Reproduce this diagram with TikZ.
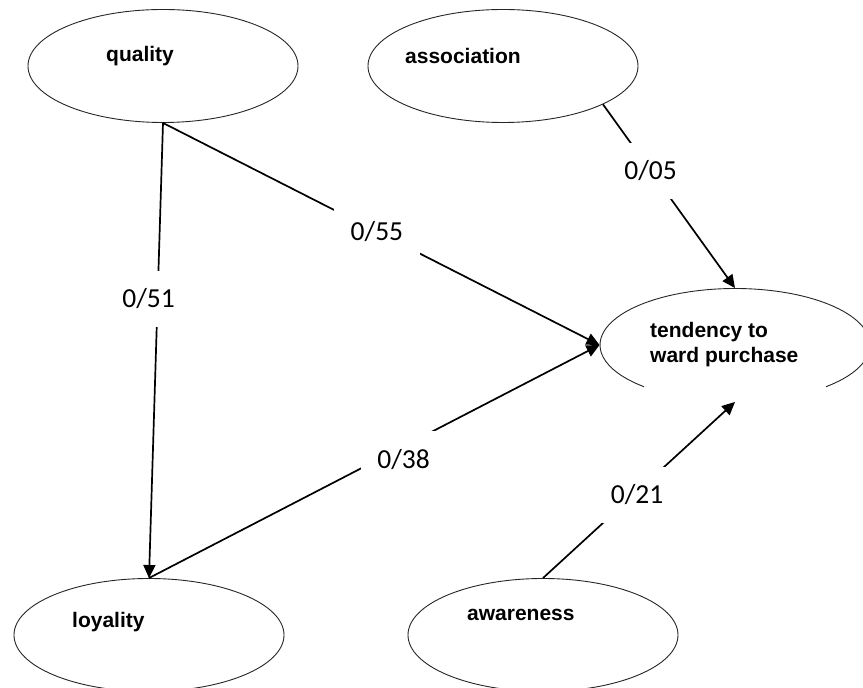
\documentclass[tikz,border=0pt]{standalone}
\usepackage{fontspec}
\setmainfont{Liberation Sans}
\newfontfamily\carlito{Carlito}
\usetikzlibrary{arrows.meta,shapes.geometric}

\begin{document}
\begin{tikzpicture}[x=1pt,y=1pt,>={Triangle[length=13pt,width=12pt]},
oval/.style={ellipse,draw=black!85,line width=.9pt,minimum width=270pt,minimum height=113pt,inner sep=0},
ovaltxt/.style={anchor=base west,inner sep=0,font=\fontsize{21}{25}\selectfont\bfseries},
link/.style={->,line width=1.7pt},
wt/.style={fill=white,minimum width=86pt,minimum height=56pt,inner sep=0,font=\carlito\fontsize{27.5}{30}\selectfont}]
\useasboundingbox (0,0) rectangle (863,688);
\node[oval](qual)at(163,622){};\node[oval](assoc)at(503,622){};
\node[oval](loy)at(149,53){};\node[oval](aware)at(543,53){};
\node[oval,draw=none](tend)at(735,343){};
\draw[black!85,line width=.9pt](tend.center)++(-47.6:135 and 56.5) arc[start angle=-47.6,end angle=227.6,x radius=135pt,y radius=56.5pt];
\node[ovaltxt](qual-t)at(106,626){quality};
\node[ovaltxt](assoc-t)at(405,624){association};
\node[ovaltxt](loy-t)at(72,60){loyality};
\node[ovaltxt](aware-t)at(467,67){awareness};
\node[ovaltxt,anchor=west,align=left](tend-t)at(650,343){tendency to\\ward purchase};
\draw[link](qual.south)--(loy.north) node[wt,pos=.386,xshift=-9pt](w51){0/51};
\draw[link](qual.south)--(tend.west) node[wt,pos=.49](w55){0/55};
\draw[link](loy.north)--(tend.west) node[wt,pos=.565,yshift=-13pt](w38){0/38};
\draw[link](assoc.-21.5)--(tend.north) node[wt,pos=.36](w05){0/05};
\draw[link](aware.north)--(tend.south) node[wt,pos=.49,yshift=-3pt](w21){0/21};
\end{tikzpicture}
\end{document}
